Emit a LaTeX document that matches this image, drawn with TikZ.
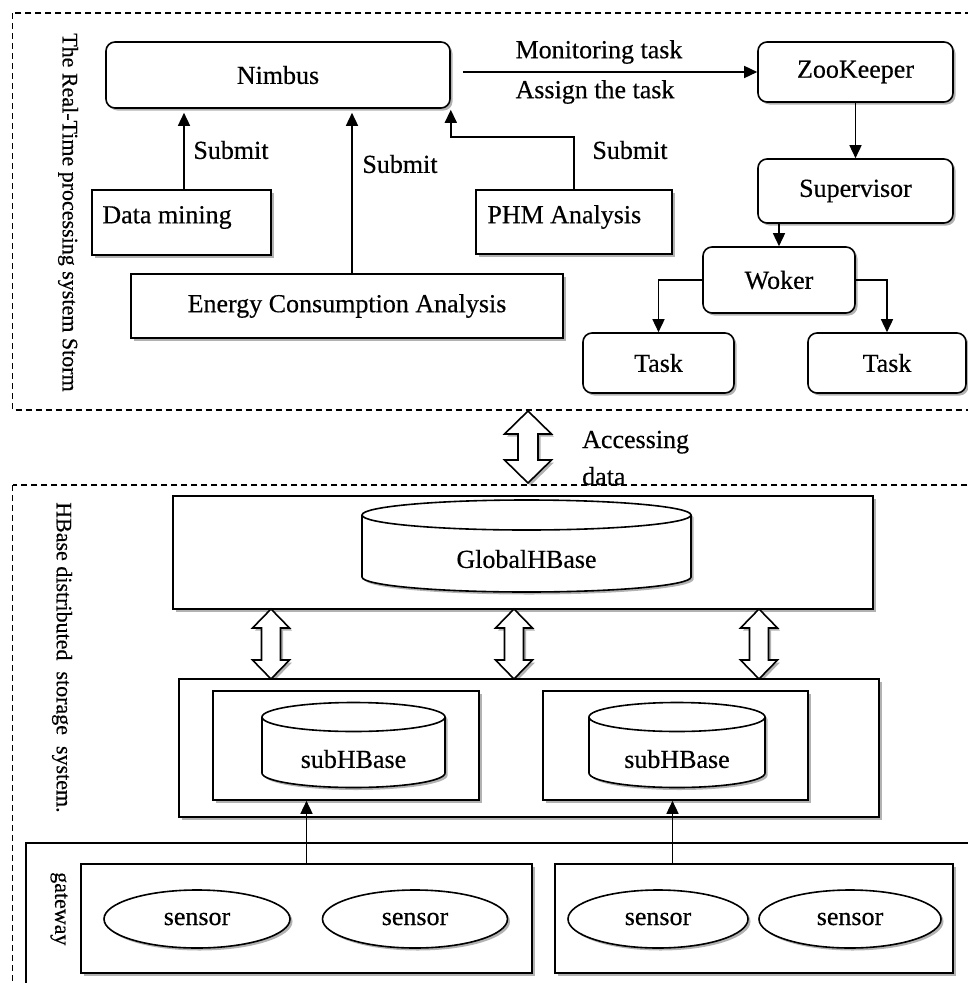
\documentclass[tikz,border=0pt]{standalone}
\usepackage{fontspec}
\setmainfont{Liberation Serif}
\newfontfamily\lsfont[FakeBold=0.4]{Liberation Serif}
\usetikzlibrary{arrows.meta,shadows,calc,shapes.geometric}
\tikzset{
  shad/.style={drop shadow={shadow xshift=2.5pt,shadow yshift=-2.5pt,opacity=0.3,fill=black}},
  box/.style={draw, line width=1.6pt, fill=white, shad, inner sep=0pt},
  rbox/.style={box, rounded corners=9pt},
  ell/.style={box, ellipse},
  frame/.style={line width=1.3pt, dash pattern=on 6pt off 4pt},
  arr/.style={line width=1.5pt, -{Triangle[length=13pt,width=12pt]}},
  lab/.style={inner sep=0pt},
  vlab/.style={rotate=-90, anchor=west, inner sep=0pt, font=\lsfont\fontsize{22}{26}\selectfont},
}
% cylinder: #1 name, #2 cx, #3 ytop, #4 ybot, #5 rx, #6 ry, #7 text y, #8 text
\newcommand{\cylshape}[8]{%
  \fill[white, shad] (#2-#5,#3) -- (#2-#5,#4) arc[start angle=180,end angle=0,x radius=#5,y radius=#6]
     -- (#2+#5,#3) arc[start angle=0,end angle=-180,x radius=#5,y radius=#6] -- cycle;
  \draw[line width=1.6pt] (#2-#5,#3) -- (#2-#5,#4) arc[start angle=180,end angle=0,x radius=#5,y radius=#6]
     -- (#2+#5,#3);
  \draw[line width=1.6pt] (#2,#3) ellipse[x radius=#5,y radius=#6];
  \node[lab] (#1) at (#2,#7) {#8};
}
% double arrow: #1 x, #2 ytop, #3 ybot, #4 shaft half, #5 head half, #6 head length
\newcommand{\dblarrow}[6]{%
  \draw[line width=1.6pt, fill=white, shad, line join=miter]
    (#1,#2) -- (#1+#5,#2+#6) -- (#1+#4,#2+#6) -- (#1+#4,#3-#6) -- (#1+#5,#3-#6)
    -- (#1,#3) -- (#1-#5,#3-#6) -- (#1-#4,#3-#6) -- (#1-#4,#2+#6) -- (#1-#5,#2+#6) -- cycle;
}
\begin{document}
\begin{tikzpicture}[x=1pt,y=-1pt,font=\lsfont\fontsize{26}{30}\selectfont]
\useasboundingbox (0,0) rectangle (967,983);
\fill[white] (0,0) rectangle (967,983);

% ---------- Storm frame ----------
\draw[frame] (12.7,13) rectangle (985,410);
\node[vlab] (stormlab) at (68,33) {The Real-Time processing system Storm};

\node[rbox, minimum width=344, minimum height=66] (nimbus) at (278,75) {Nimbus};
\node[box, minimum width=179, minimum height=65] (dm) at (181.5,222.5) {};
\node[lab, anchor=west] (dmt) at ($(dm.west)+(11,-5)$) {Data mining};
\node[box, minimum width=432, minimum height=64] (en) at (347,306) {Energy Consumption Analysis};
\node[box, minimum width=196, minimum height=64] (phm) at (574,222) {};
\node[lab, anchor=west] (phmt) at ($(phm.west)+(12,-5)$) {PHM Analysis};

\node[rbox, minimum width=195, minimum height=60] (zoo) at (855.5,72) {ZooKeeper};
\node[rbox, minimum width=195, minimum height=64] (sup) at (855.5,191) {Supervisor};
\node[rbox, minimum width=152, minimum height=66] (wok) at (779,280) {Woker};
\node[rbox, minimum width=151, minimum height=60] (t1) at (658.5,363) {Task};
\node[rbox, minimum width=158, minimum height=60] (t2) at (887,363) {Task};

\draw[arr, shorten >=4pt] ($(dm.north)+(2.5,0)$) -- ($(dm.north |- nimbus.south)+(2.5,0)$);
\draw[arr, shorten >=4pt] ($(en.north)+(5,0)$) -- ($(en.north |- nimbus.south)+(5,0)$);
\draw[arr, shorten >=1pt] (phm.north) -- ++(0,-52) -| (nimbus.south east);
\draw[arr, shorten <=12pt] (nimbus.east |- zoo.west) -- (zoo.west);
\draw[arr] (zoo.south) -- (sup.north);
\draw[arr] (sup.south -| wok.north) -- (wok.north);
\draw[arr] (wok.west) -| (t1.north);
\draw[arr] (wok.east) -| (t2.north);

\node[lab] (sub1) at (231,150) {Submit};
\node[lab] (sub2) at (400,164) {Submit};
\node[lab] (sub3) at (630,150) {Submit};
\node[lab] (mon) at (599,52) {Monitoring task};
\node[lab] (asg) at (595,92) {Assign the task};

% ---------- access ----------
\dblarrow{528}{411}{483}{10}{23.5}{23}
\node[lab, anchor=base west] (acc1) at (582,448) {Accessing};
\node[lab, anchor=base west] (acc2) at (582,485) {data};

% ---------- HBase frame ----------
\draw[frame] (12.7,485) rectangle (985,1000);
\node[vlab] (hblab) at (62,502) {HBase distributed\ \ storage\ \ system.};

\node[box, minimum width=700, minimum height=113] (glob) at (523,552.5) {};
\cylshape{globt}{526.5}{515}{577}{164.5}{15}{559}{GlobalHBase}

\dblarrow{271}{609}{679}{9.5}{18.5}{19}
\dblarrow{514}{609}{679}{9.5}{18.5}{19}
\dblarrow{759}{609}{679}{9.5}{18.5}{19}

\node[box, minimum width=700, minimum height=138] (subo) at (529,748) {};
\node[box, minimum width=266, minimum height=109] (in1) at (346,745.5) {};
\node[box, minimum width=265, minimum height=109] (in2) at (675.5,745.5) {};
\cylshape{c1t}{353.5}{717}{773}{91.5}{14.5}{759}{subHBase}
\cylshape{c2t}{677}{717}{773}{88}{14.5}{759}{subHBase}

% ---------- gateway ----------
\node[box, minimum width=964, minimum height=157] (gw) at (508,921.5) {};
\node[vlab] (gwlab) at (59,872) {gateway};
\node[box, minimum width=451, minimum height=109] (g1) at (306.5,918.5) {};
\node[box, minimum width=398, minimum height=109] (g2) at (754,918.5) {};
\node[ell, minimum width=186, minimum height=58] (s1) at (197,919) {sensor};
\node[ell, minimum width=185, minimum height=58] (s2) at (415,919) {sensor};
\node[ell, minimum width=180, minimum height=58] (s3) at (658,919) {sensor};
\node[ell, minimum width=182, minimum height=58] (s4) at (850,919) {sensor};

\draw[arr] (g1.north) -- (g1.north |- in1.south);
\draw[arr] ($(in2.south |- g2.north)+(-3,0)$) -- ($(in2.south)+(-3,0)$);
\end{tikzpicture}
\end{document}
